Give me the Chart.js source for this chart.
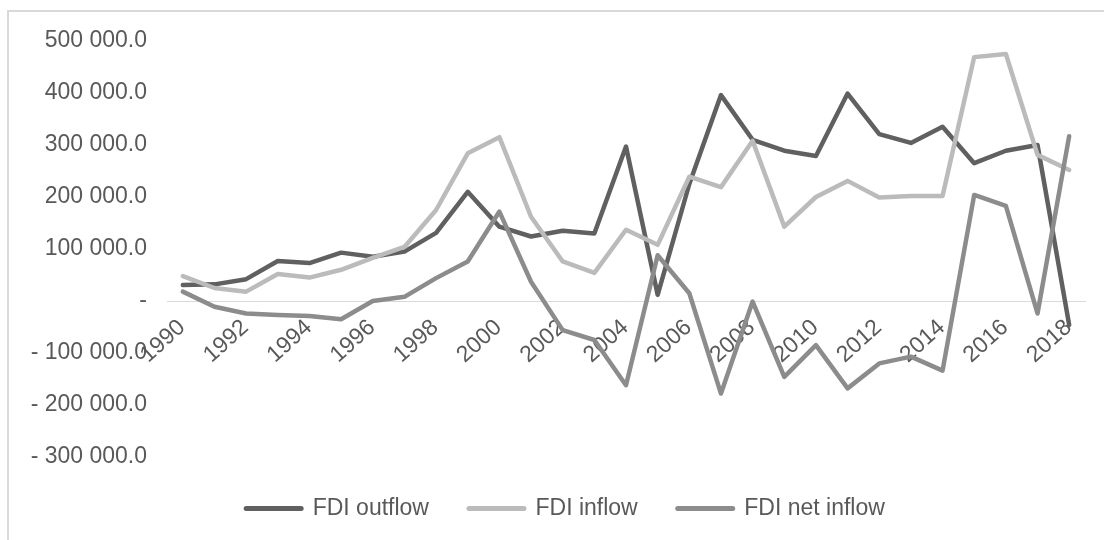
<!DOCTYPE html>
<html>
<head>
<meta charset="utf-8">
<script src="https://cdn.jsdelivr.net/npm/chart.js@4.4.1/dist/chart.umd.min.js"></script>
<style>
  html, body { margin: 0; padding: 0; background: #ffffff; }
  #wrap { width: 1104px; height: 540px; }
</style>
</head>
<body>
<div id="wrap"><canvas id="c" width="1104" height="540"></canvas></div>
<script>
const years = [1990,1991,1992,1993,1994,1995,1996,1997,1998,1999,2000,2001,2002,2003,2004,2005,2006,2007,2008,2009,2010,2011,2012,2013,2014,2015,2016,2017,2018];
const fdiOutflow = [31000,32000,42000,77000,73000,93000,85000,95000,131000,210000,143000,124000,135000,130000,297000,12000,225000,396000,310000,289000,279000,399000,321000,304000,335000,265000,289000,300000,-46000];
const fdiInflow = [48000,25000,18000,52000,45000,60000,83000,104000,175000,284000,315000,162000,76000,54000,137000,108000,239000,219000,308000,143000,200000,231000,199000,202000,202000,469000,475000,281000,252000];
const fdiNetInflow = [18000,-11000,-24000,-27000,-29000,-35000,0,8000,44000,76000,172000,37000,-56000,-75000,-162000,88000,15000,-178000,-1000,-146000,-85000,-168000,-120000,-107000,-134000,204000,183000,-24000,317000];
const yMin = -300000, yMax = 500000, yStep = 100000;

function fmt(v) {
  if (v === 0) return '-';
  const a = Math.abs(v);
  const s = a.toFixed(1);
  const parts = s.split('.');
  const intPart = parts[0].replace(/\B(?=(\d{3})+(?!\d))/g, ' ');
  return (v < 0 ? '- ' : '') + intPart + '.' + parts[1];
}

const FONT = 'Liberation Sans, Arial, sans-serif';
const TXT = '#595959';

const framePlugin = {
  id: 'frame',
  beforeDraw(chart) {
    const ctx = chart.ctx;
    ctx.save();
    ctx.fillStyle = '#ffffff';
    ctx.fillRect(0, 0, chart.width, chart.height);
    ctx.strokeStyle = '#d9d9d9';
    ctx.lineWidth = 2;
    ctx.beginPath();
    ctx.moveTo(8, 540);
    ctx.lineTo(8, 11);
    ctx.lineTo(1104, 11);
    ctx.stroke();
    ctx.restore();
  },
  afterLayout(chart) {
    const lg = chart.legend;
    if (lg) { lg.left += 8; lg.right += 8; }
  }
};

new Chart(document.getElementById('c'), {
  type: 'line',
  data: {
    labels: years.map(String),
    datasets: [
      { label: 'FDI outflow', data: fdiOutflow, borderColor: '#606060', backgroundColor: '#606060', order: 3 },
      { label: 'FDI inflow', data: fdiInflow, borderColor: '#bbbbbb', backgroundColor: '#bbbbbb', order: 2 },
      { label: 'FDI net inflow', data: fdiNetInflow, borderColor: '#8c8c8c', backgroundColor: '#8c8c8c', order: 1 }
    ]
  },
  options: {
    responsive: false,
    animation: false,
    devicePixelRatio: 1,
    elements: {
      line: { borderWidth: 4.5, tension: 0, borderCapStyle: 'round', borderJoinStyle: 'round', fill: false },
      point: { radius: 0, hoverRadius: 0, borderWidth: 5, pointStyle: 'line' }
    },
    layout: { padding: { left: 30, right: 19, top: 41, bottom: 10 } },
    plugins: {
      tooltip: { enabled: false },
      legend: {
        position: 'bottom',
        labels: {
          usePointStyle: true,
          pointStyle: 'line',
          pointStyleWidth: 55,
          padding: 40,
          color: TXT,
          font: { family: FONT, size: 23 },
          sort: (a, b) => a.datasetIndex - b.datasetIndex,
          generateLabels: (chart) => {
            const items = Chart.defaults.plugins.legend.labels.generateLabels(chart);
            items.forEach(it => { it.lineWidth = 5; it.lineCap = 'round'; });
            return items;
          }
        }
      }
    },
    scales: {
      x: {
        type: 'category',
        offset: true,
        position: { y: 0 },
        z: 1,
        grid: { display: false, drawTicks: false },
        border: { display: true, color: '#d9d9d9', width: 1 },
        ticks: {
          autoSkip: false,
          maxRotation: 42,
          minRotation: 42,
          padding: 13,
          labelOffset: -10,
          color: TXT,
          font: { family: FONT, size: 23 },
          showLabelBackdrop: true,
          backdropColor: '#ffffff',
          backdropPadding: 2,
          callback: function(value, index) {
            const y = years[index];
            return (y % 2 === 0) ? String(y) : null;
          }
        }
      },
      y: {
        min: yMin,
        max: yMax,
        grid: { display: false, drawTicks: false },
        border: { display: false },
        afterFit: (scale) => { scale.width = 137; },
        ticks: {
          stepSize: yStep,
          padding: 20,
          color: TXT,
          font: { family: FONT, size: 23 },
          callback: (v) => fmt(v)
        }
      }
    }
  },
  plugins: [framePlugin]
});
</script>
</body>
</html>
